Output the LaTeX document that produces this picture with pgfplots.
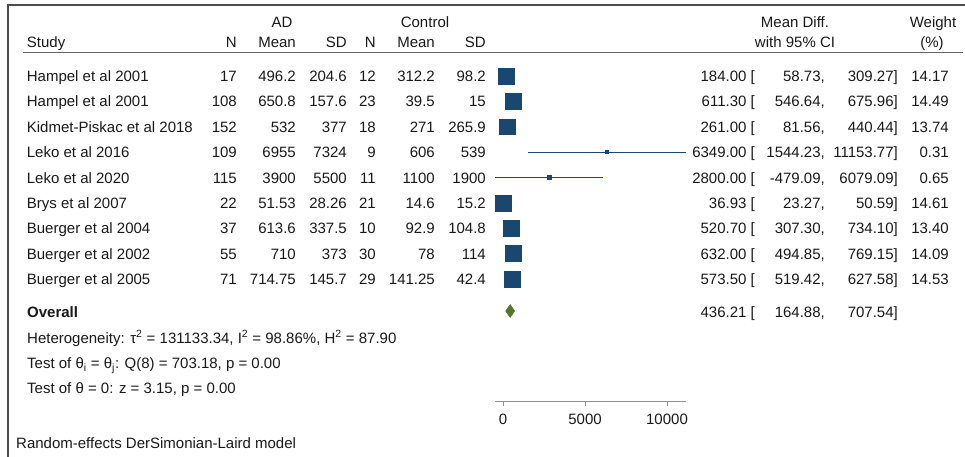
\documentclass[border=0pt]{standalone}
\usepackage{fontspec}
\setmainfont{Liberation Sans}
\usepackage{pgfplots}
\pgfplotsset{compat=1.18}
\usepackage{pgfplotstable}
\definecolor{sqcol}{RGB}{26,71,111}
\definecolor{dgreen}{RGB}{85,117,47}
\definecolor{rulecol}{RGB}{100,100,100}
\definecolor{txt}{RGB}{25,25,25}

\pgfplotstableread{
r md lo hi w
1 184.00 58.73 309.27 14.17
2 611.30 546.64 675.96 14.49
3 261.00 81.56 440.44 13.74
4 6349.00 1544.23 11153.77 0.31
5 2800.00 -479.09 6079.09 0.65
6 36.93 23.27 50.59 14.61
7 520.70 307.30 734.10 13.40
8 632.00 494.85 769.15 14.09
9 573.50 519.42 627.58 14.53
}\studies

\newcommand{\fs}{\fontsize{15}{18}\selectfont}
\newcommand{\rowL}[8]{%
 \node[anchor=base west] at (26.7pt,-#1pt) {#2};
 \node[anchor=base east] at (237pt,-#1pt) {#3};
 \node[anchor=base east] at (296pt,-#1pt) {#4};
 \node[anchor=base east] at (347pt,-#1pt) {#5};
 \node[anchor=base east] at (376pt,-#1pt) {#6};
 \node[anchor=base east] at (435pt,-#1pt) {#7};
 \node[anchor=base east] at (486pt,-#1pt) {#8};}
\newcommand{\rowR}[5]{%
 \node[anchor=base east] at (755pt,-#1pt) {#2 [};
 \node[anchor=base east] at (825pt,-#1pt) {#3,};
 \node[anchor=base east] at (898pt,-#1pt) {#4]};
 \node[anchor=base east] at (949pt,-#1pt) {#5};}
% one weighted square per study: side proportional to sqrt(weight)
\newcommand{\sq}[3]{\addplot[only marks, mark=square*, color=sqcol,
  mark size=#3, mark options={line width=0.8pt}] coordinates {(#1,#2)};}

\begin{document}
\begin{tikzpicture}[every node/.style={font=\fs, inner sep=0pt, text=txt}]
\useasboundingbox (0pt,0pt) rectangle (965pt,-457pt);
% frame and header rule
\draw[line width=1.5pt, black!70] (8pt,-457pt) -- (8pt,-5pt) -- (965pt,-5pt);
\draw[line width=1.5pt, rulecol] (23pt,-52.7pt) -- (963pt,-52.7pt);

\begin{axis}[
  at={(495.14pt,-401.7pt)}, anchor=south west,
  scale only axis, width=190.78pt, height=351.1pt,
  xmin=-479.09, xmax=11153.77, ymin=-13.82, ymax=0,
  axis x line*=bottom, axis y line=none,
  axis line style={draw=gray!85, line width=1pt, -},
  xtick={0,5000,10000}, xtick align=outside,
  major tick length=4pt,
  x tick style={draw=gray!85, line width=0.8pt},
  xticklabel style={font=\fs, text=txt, anchor=north, inner sep=0pt, yshift=-8pt},
  /pgf/number format/assume math mode=true,
  /pgf/number format/1000 sep={},
  scaled x ticks=false,
  clip=false,
]
\addplot[draw=none, forget plot,
  error bars/.cd, x dir=both, x explicit,
  error bar style={draw=sqcol, line width=0.9pt}, error mark=none]
  table[x=md, y expr=-\thisrow{r},
        x error minus expr=\thisrow{md}-\thisrow{lo},
        x error plus expr=\thisrow{hi}-\thisrow{md}] {\studies};
\sq{184.00}{-1}{8.00}
\sq{611.30}{-2}{8.09}
\sq{261.00}{-3}{7.88}
\sq{6349.00}{-4}{1.6}
\sq{2800.00}{-5}{2.0}
\sq{36.93}{-6}{8.12}
\sq{520.70}{-7}{7.78}
\sq{632.00}{-8}{7.98}
\sq{573.50}{-9}{8.10}
\addplot[fill=dgreen, draw=dgreen, line width=0.5pt]
  coordinates {(164.88,-10.25) (436.21,-9.994) (707.54,-10.25) (436.21,-10.506)} -- cycle;
\end{axis}

% header
\node[anchor=base] at (282pt,-27.1pt) {AD};
\node[anchor=base] at (425pt,-27.1pt) {Control};
\node[anchor=base] at (795pt,-27.1pt) {Mean Diff.};
\node[anchor=base] at (933pt,-27.1pt) {Weight};
\rowL{47.7}{Study}{N}{Mean}{SD}{N}{Mean}{SD}
\node[anchor=base] at (795pt,-47.7pt) {with 95\% CI};
\node[anchor=base] at (932pt,-47.7pt) {(\%)};

% study rows
\rowL{81.4}{Hampel et al 2001}{17}{496.2}{204.6}{12}{312.2}{98.2}
\rowR{81.4}{184.00}{58.73}{309.27}{14.17}
\rowL{106.8}{Hampel et al 2001}{108}{650.8}{157.6}{23}{39.5}{15}
\rowR{106.8}{611.30}{546.64}{675.96}{14.49}
\rowL{132.2}{Kidmet-Piskac et al 2018}{152}{532}{377}{18}{271}{265.9}
\rowR{132.2}{261.00}{81.56}{440.44}{13.74}
\rowL{157.6}{Leko et al 2016}{109}{6955}{7324}{9}{606}{539}
\rowR{157.6}{6349.00}{1544.23}{11153.77}{0.31}
\rowL{183.0}{Leko et al 2020}{115}{3900}{5500}{11}{1100}{1900}
\rowR{183.0}{2800.00}{-479.09}{6079.09}{0.65}
\rowL{208.4}{Brys et al 2007}{22}{51.53}{28.26}{21}{14.6}{15.2}
\rowR{208.4}{36.93}{23.27}{50.59}{14.61}
\rowL{233.8}{Buerger et al 2004}{37}{613.6}{337.5}{10}{92.9}{104.8}
\rowR{233.8}{520.70}{307.30}{734.10}{13.40}
\rowL{259.2}{Buerger et al 2002}{55}{710}{373}{30}{78}{114}
\rowR{259.2}{632.00}{494.85}{769.15}{14.09}
\rowL{284.6}{Buerger et al 2005}{71}{714.75}{145.7}{29}{141.25}{42.4}
\rowR{284.6}{573.50}{519.42}{627.58}{14.53}

% overall
\node[anchor=base west] at (27pt,-317.1pt) {\textbf{Overall}};
\rowR{317.1}{436.21}{164.88}{707.54}{}
\node[anchor=base west] at (27pt,-343.1pt) {Heterogeneity: τ\textsuperscript{2} = 131133.34, I\textsuperscript{2} = 98.86\%, H\textsuperscript{2} = 87.90};
\node[anchor=base west] at (27pt,-368.7pt) {Test of θ\textsubscript{i} = θ\textsubscript{j}: Q(8) = 703.18, p = 0.00};
\node[anchor=base west] at (27pt,-393.7pt) {Test of θ = 0: z = 3.15, p = 0.00};
\node[anchor=base west] at (16pt,-448.5pt) {Random-effects DerSimonian-Laird model};
\end{tikzpicture}
\end{document}
